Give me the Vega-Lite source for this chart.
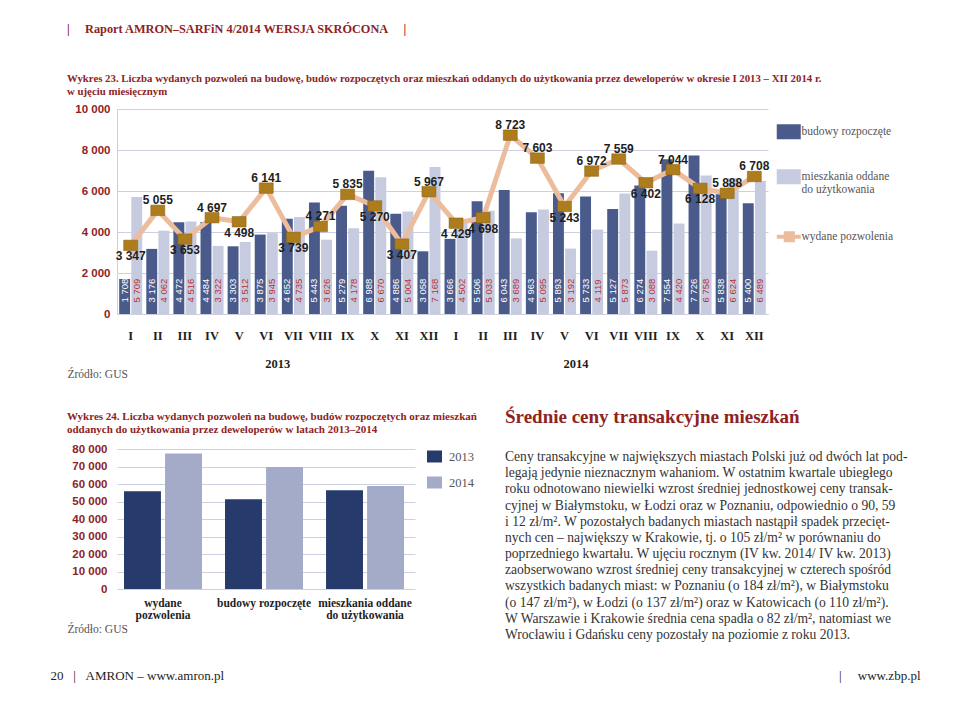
{
"$schema": "https://vega.github.io/schema/vega-lite/v6.json",
"padding": {"left": 50, "top": 22, "right": 5, "bottom": 5},
"background": "white",
"config": {
  "locale": {"number": {"decimal": ",", "thousands": " ", "grouping": [3], "currency": ["", " zł"]}},
  "view": {"stroke": null},
  "axis": {"ticks": false, "gridColor": "#ccd0e0"},
  "legend": {"title": null}
},
"datasets": {
  "monthly": [
    {"m":"I 2013","b":1708,"o":5709,"p":3347},
    {"m":"II 2013","b":3176,"o":4062,"p":5055},
    {"m":"III 2013","b":4472,"o":4516,"p":3653},
    {"m":"IV 2013","b":4484,"o":3322,"p":4697},
    {"m":"V 2013","b":3303,"o":3512,"p":4498},
    {"m":"VI 2013","b":3875,"o":3945,"p":6141},
    {"m":"VII 2013","b":4652,"o":4735,"p":3739},
    {"m":"VIII 2013","b":5443,"o":3626,"p":4271},
    {"m":"IX 2013","b":5279,"o":4178,"p":5835},
    {"m":"X 2013","b":6988,"o":6670,"p":5270},
    {"m":"XI 2013","b":4886,"o":5004,"p":3407},
    {"m":"XII 2013","b":3058,"o":7168,"p":5967},
    {"m":"I 2014","b":3666,"o":4502,"p":4429},
    {"m":"II 2014","b":5506,"o":5033,"p":4698},
    {"m":"III 2014","b":6043,"o":3689,"p":8723},
    {"m":"IV 2014","b":4963,"o":5095,"p":7603},
    {"m":"V 2014","b":5893,"o":3192,"p":5243},
    {"m":"VI 2014","b":5733,"o":4119,"p":6972},
    {"m":"VII 2014","b":5127,"o":5873,"p":7559},
    {"m":"VIII 2014","b":6274,"o":3088,"p":6402},
    {"m":"IX 2014","b":7554,"o":4420,"p":7044},
    {"m":"X 2014","b":7726,"o":6758,"p":6128},
    {"m":"XI 2014","b":5838,"o":6624,"p":5888},
    {"m":"XII 2014","b":5400,"o":6489,"p":6708}
  ],
  "yearly": [
    {"cat":"wydane pozwolenia","year":"2013","v":55880},
    {"cat":"wydane pozwolenia","year":"2014","v":77397},
    {"cat":"budowy rozpoczęte","year":"2013","v":51324},
    {"cat":"budowy rozpoczęte","year":"2014","v":69723},
    {"cat":"mieszkania oddane do użytkowania","year":"2013","v":56447},
    {"cat":"mieszkania oddane do użytkowania","year":"2014","v":58882}
  ],
  "body": [
    {"i":1,"t":"Ceny transakcyjne w największych miastach Polski już od dwóch lat pod-"},
    {"i":2,"t":"legają jedynie nieznacznym wahaniom. W ostatnim kwartale ubiegłego"},
    {"i":3,"t":"roku odnotowano niewielki wzrost średniej jednostkowej ceny transak-"},
    {"i":4,"t":"cyjnej w Białymstoku, w Łodzi oraz w Poznaniu, odpowiednio o 90, 59"},
    {"i":5,"t":"i 12 zł/m². W pozostałych badanych miastach nastąpił spadek przecięt-"},
    {"i":6,"t":"nych cen – największy w Krakowie, tj. o 105 zł/m² w porównaniu do"},
    {"i":7,"t":"poprzedniego kwartału. W ujęciu rocznym (IV kw. 2014/ IV kw. 2013)"},
    {"i":8,"t":"zaobserwowano wzrost średniej ceny transakcyjnej w czterech spośród"},
    {"i":9,"t":"wszystkich badanych miast: w Poznaniu (o 184 zł/m²), w Białymstoku"},
    {"i":10,"t":"(o 147 zł/m²), w Łodzi (o 137 zł/m²) oraz w Katowicach (o 110 zł/m²)."},
    {"i":11,"t":"W Warszawie i Krakowie średnia cena spadła o 82 zł/m², natomiast we"},
    {"i":12,"t":"Wrocławiu i Gdańsku ceny pozostały na poziomie z roku 2013."}
  ]
},
"resolve": {"scale": {"color": "independent", "xOffset": "independent"}, "legend": {"color": "independent"}},
"spacing": 28,
"vconcat": [
  {
    "width": 651, "height": 205,
    "title": {
      "text": "|\u00a0\u00a0\u00a0\u00a0\u00a0Raport AMRON–SARFiN 4/2014 WERSJA SKRÓCONA\u00a0\u00a0\u00a0\u00a0\u00a0|",
      "subtitle": ["Wykres 23. Liczba wydanych pozwoleń na budowę, budów rozpoczętych oraz mieszkań oddanych do użytkowania przez deweloperów w okresie I 2013 – XII 2014 r.", "w ujęciu miesięcznym"],
      "anchor": "start", "frame": "group", "dx": -50,
      "font": "Liberation Serif", "fontSize": 12.3, "fontWeight": "bold", "color": "#8e2323",
      "subtitleFont": "Liberation Serif", "subtitleFontSize": 10.8, "subtitleFontWeight": "bold", "subtitleColor": "#8e2323",
      "subtitlePadding": 38, "subtitleLineHeight": 13, "offset": 6
    },
    "data": {"name": "monthly"},
    "encoding": {
      "x": {"field": "m", "type": "nominal",
        "scale": {"domain": ["I 2013","II 2013","III 2013","IV 2013","V 2013","VI 2013","VII 2013","VIII 2013","IX 2013","X 2013","XI 2013","XII 2013","I 2014","II 2014","III 2014","IV 2014","V 2014","VI 2014","VII 2014","VIII 2014","IX 2014","X 2014","XI 2014","XII 2014"], "paddingInner": 0.15, "paddingOuter": 0.08},
        "axis": {"labelExpr": "split(datum.label, ' ')[0]", "labelAngle": 0, "labelFont": "Liberation Serif", "labelFontWeight": "bold", "labelFontSize": 12.5, "labelColor": "#1e1e1e", "labelPadding": 15, "domain": true, "domainColor": "#ccd0e0",
          "title": "Źródło: GUS", "titleFont": "Liberation Serif", "titleFontWeight": "normal", "titleFontSize": 11.5, "titleColor": "#555", "titleAlign": "left", "titleBaseline": "middle", "titleX": -50, "titleY": 60}}
    },
    "layer": [
      {
        "transform": [{"fold": ["b", "o"]}],
        "mark": {"type": "bar"},
        "encoding": {
          "y": {"field": "value", "type": "quantitative", "scale": {"domain": [0, 10000]},
            "axis": {"values": [0, 2000, 4000, 6000, 8000, 10000], "format": ",d", "labelFont": "Liberation Sans", "labelFontWeight": "bold", "labelFontSize": 11.5, "labelColor": "#8e2323", "labelPadding": 7, "domain": true, "domainColor": "#ccd0e0", "grid": true,
              "title": "\u00a0", "titleAngle": 0, "titleAlign": "left", "titleX": -67, "titleY": 100, "titleFontSize": 10}},
          "xOffset": {"field": "key", "type": "nominal", "scale": {"paddingInner": 0.1}},
          "color": {"field": "key", "type": "nominal",
            "scale": {"domain": ["b", "o", "p"], "range": ["#4a5b8b", "#c7cbdf", "#ecbd9c"]},
            "legend": {"orient": "right", "offset": -2, "padding": 17,
              "labelExpr": "datum.value == 'b' ? 'budowy rozpoczęte' : datum.value == 'o' ? ['mieszkania oddane', 'do użytkowania'] : 'wydane pozwolenia'",
              "labelFont": "Liberation Serif", "labelFontSize": 11.5, "labelColor": "#555", "labelOffset": 7,
              "rowPadding": 29, "symbolSize": 576,
              "encode": {"symbols": {"update": {
                "shape": {"signal": "datum.value === 'p' ? 'M-1,0L1,0M-0.25,-0.3L0.35,-0.3L0.35,0.3L-0.25,0.3Z' : 'M-1,-0.625L1,-0.625L1,0.625L-1,0.625Z'"},
                "fill": {"signal": "datum.value === 'b' ? '#4a5b8b' : datum.value === 'o' ? '#c7cbdf' : '#ad7c1c'"},
                "stroke": {"signal": "datum.value === 'p' ? '#ecbd9c' : 'transparent'"},
                "strokeWidth": {"signal": "datum.value === 'p' ? 4 : 0"},
                "opacity": {"value": 1}
              }}}
            }}
        }
      },
      {
        "transform": [{"fold": ["b", "o"]}],
        "mark": {"type": "text", "angle": 270, "align": "left", "baseline": "middle", "font": "Liberation Sans", "fontSize": 9.5},
        "encoding": {
          "y": {"datum": 560, "type": "quantitative"},
          "xOffset": {"field": "key", "type": "nominal"},
          "text": {"field": "value", "type": "quantitative", "format": ",d"},
          "color": {"condition": {"test": "datum.key === 'b'", "value": "white"}, "value": "#b8323a"}
        }
      },
      {
        "mark": {"type": "line", "strokeWidth": 5, "strokeJoin": "round", "strokeCap": "round"},
        "encoding": {
          "y": {"field": "p", "type": "quantitative"},
          "color": {"datum": "p"}
        }
      },
      {
        "mark": {"type": "point", "shape": "M-1,-0.75L1,-0.75L1,0.75L-1,0.75Z", "size": 196, "filled": true, "fill": "#ad7c1c", "stroke": "#8a5f10", "strokeWidth": 0.5, "opacity": 1},
        "encoding": {"y": {"field": "p", "type": "quantitative"}}
      },
      {
        "transform": [{"filter": {"field": "m", "oneOf": ["II 2013","IV 2013","VI 2013","VIII 2013","IX 2013","XII 2013","III 2014","IV 2014","VI 2014","VII 2014","IX 2014","XI 2014","XII 2014"]}}],
        "mark": {"type": "text", "dy": -10, "font": "Liberation Sans", "fontWeight": "bold", "fontSize": 12, "color": "#1e1e1e"},
        "encoding": {"y": {"field": "p", "type": "quantitative"}, "text": {"field": "p", "type": "quantitative", "format": ",d"}}
      },
      {
        "transform": [{"filter": {"field": "m", "oneOf": ["I 2013","III 2013","V 2013","VII 2013","X 2013","XI 2013","I 2014","II 2014","V 2014","VIII 2014","X 2014"]}}],
        "mark": {"type": "text", "dy": 11, "font": "Liberation Sans", "fontWeight": "bold", "fontSize": 12, "color": "#1e1e1e"},
        "encoding": {"y": {"field": "p", "type": "quantitative"}, "text": {"field": "p", "type": "quantitative", "format": ",d"}}
      },
      {
        "data": {"values": [{"m": "VI 2013", "year": "2013"}, {"m": "V 2014", "year": "2014"}]},
        "mark": {"type": "text", "font": "Liberation Serif", "fontWeight": "bold", "fontSize": 12.5, "color": "#1e1e1e"},
        "encoding": {
          "x": {"field": "m", "type": "nominal", "bandPosition": 1},
          "y": {"datum": -2450, "type": "quantitative"},
          "text": {"field": "year"}
        }
      }
    ]
  },
  {
    "spacing": 90,
    "bounds": "flush",
    "resolve": {"scale": {"color": "independent", "xOffset": "independent"}, "legend": {"color": "independent"}},
    "hconcat": [
      {
        "width": 298, "height": 140,
        "title": {"text": ["Wykres 24. Liczba wydanych pozwoleń na budowę, budów rozpoczętych oraz mieszkań", "oddanych do użytkowania przez deweloperów w latach 2013–2014"], "anchor": "start", "frame": "group", "dx": -50, "font": "Liberation Serif", "fontSize": 11, "fontWeight": "bold", "color": "#8e2323", "lineHeight": 13, "offset": 8},
        "data": {"name": "yearly"},
        "mark": {"type": "bar"},
        "encoding": {
          "x": {"field": "cat", "type": "nominal", "sort": null, "scale": {"paddingInner": 0.228, "paddingOuter": 0.089, "align": 0.39},
            "axis": {"labelExpr": "datum.label == 'wydane pozwolenia' ? ['wydane', 'pozwolenia'] : datum.label == 'mieszkania oddane do użytkowania' ? ['mieszkania oddane', 'do użytkowania'] : datum.label",
              "labelAngle": 0, "labelFont": "Liberation Serif", "labelFontWeight": "bold", "labelFontSize": 11.5, "labelColor": "#1e1e1e", "labelPadding": 8, "labelLineHeight": 12, "domain": false,
              "title": "Źródło: GUS", "titleFont": "Liberation Serif", "titleFontWeight": "normal", "titleFontSize": 11.5, "titleColor": "#555", "titleAlign": "left", "titleBaseline": "middle", "titleX": -50, "titleY": 40}},
          "xOffset": {"field": "year", "type": "nominal", "scale": {"paddingInner": 0.1}},
          "y": {"field": "v", "type": "quantitative", "scale": {"domain": [0, 80000]},
            "axis": {"values": [0, 10000, 20000, 30000, 40000, 50000, 60000, 70000, 80000], "format": ",d", "labelFont": "Liberation Sans", "labelFontWeight": "bold", "labelFontSize": 11.5, "labelColor": "#8e2323", "labelPadding": 10, "domain": false, "grid": true,
              "title": "20\u00a0\u00a0\u00a0|\u00a0\u00a0\u00a0AMRON – www.amron.pl", "titleAngle": 0, "titleAlign": "left", "titleBaseline": "middle", "titleX": -67, "titleY": 226, "titleFont": "Liberation Serif", "titleFontSize": 13, "titleFontWeight": "normal", "titleColor": "#222"}},
          "color": {"field": "year", "type": "nominal", "scale": {"range": ["#263a6b", "#a3abc9"]},
            "legend": {"orient": "right", "offset": 12, "labelFont": "Liberation Serif", "labelFontSize": 12.5, "labelColor": "#555", "labelOffset": 7, "rowPadding": 12, "symbolType": "M-1,-0.8L1,-0.8L1,0.8L-1,0.8Z", "symbolSize": 225, "symbolStrokeWidth": 0, "symbolOpacity": 1}}
        }
      },
      {
        "width": 415, "height": 194,
        "title": {"text": "Średnie ceny transakcyjne mieszkań", "anchor": "start", "frame": "group", "font": "Liberation Serif", "fontSize": 19, "fontWeight": "bold", "color": "#8e2323", "offset": 22},
        "data": {"name": "body"},
        "mark": {"type": "text", "align": "left", "baseline": "middle", "font": "Liberation Serif", "fontSize": 13.6, "color": "#333"},
        "encoding": {
          "y": {"field": "i", "type": "ordinal", "axis": null, "scale": {"type": "band", "paddingInner": 0, "paddingOuter": 0}},
          "x": {"datum": 0, "type": "quantitative", "scale": {"domain": [0, 1]},
            "axis": {"labels": false, "ticks": false, "domain": false, "grid": false, "title": "|\u00a0\u00a0\u00a0\u00a0\u00a0www.zbp.pl", "titleAnchor": "end", "titleAlign": "right", "titlePadding": 26, "titleFont": "Liberation Serif", "titleFontSize": 13, "titleFontWeight": "normal", "titleColor": "#222"}},
          "text": {"field": "t"}
        }
      }
    ]
  }
]
}
